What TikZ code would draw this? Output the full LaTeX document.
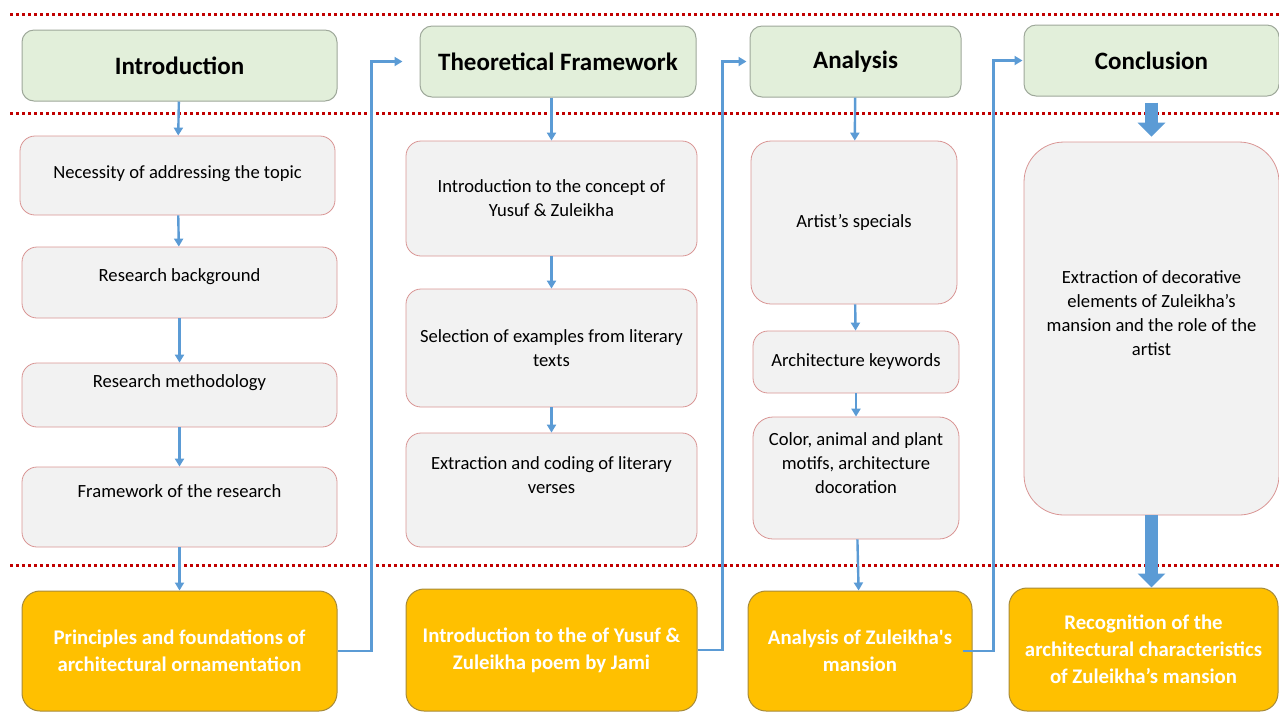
\documentclass[tikz,border=0pt]{standalone}
\usepackage{fontspec}
\setmainfont{Carlito}[Ligatures=TeXOff]
\usetikzlibrary{arrows.meta}

\definecolor{boxgreen}{HTML}{E2EFDA}
\definecolor{headline}{HTML}{9EA89A}
\definecolor{itemgray}{HTML}{F2F2F2}
\definecolor{itemline}{HTML}{D99594}
\definecolor{resultorange}{HTML}{FFC000}
\definecolor{resultline}{HTML}{A68A3A}
\definecolor{flowblue}{HTML}{5B9BD5}
\definecolor{sepred}{HTML}{C00000}

\newcommand{\lift}[2]{\raisebox{#1}[\height][\depth]{\begin{tabular}{@{}c@{}}#2\end{tabular}}}

\begin{document}
\begin{tikzpicture}[x=0.5pt, y=-0.5pt,
    head/.style={draw=headline, fill=boxgreen, rounded corners=6pt, line width=0.5pt, font=\fontsize{12.5}{15}\selectfont\bfseries, minimum height=35.5pt},
    item/.style={draw=itemline, fill=itemgray, rounded corners=7.5pt, line width=0.4pt, font=\fontsize{9.3}{12}\selectfont, align=center},
    result/.style={draw=resultline, fill=resultorange, rounded corners=9pt, line width=0.5pt, text=white, font=\fontsize{10.4}{13.5}\selectfont\bfseries, align=center},
    flow/.style={draw=flowblue, line width=1.2pt, -{Triangle[width=4.5pt,length=4pt]}},
    bigflow/.style={draw=flowblue, line width=6.5pt, -{Triangle[width=13.5pt,length=7pt]}},
    sep/.style={draw=sepred, line width=1.5pt, dash pattern=on 1.5pt off 1.5pt}]

    \useasboundingbox (0,0) rectangle (1279,720);

    \draw[sep] (10,14) -- (1279,14);
    \draw[sep] (10,113) -- (1279,113);
    \draw[sep] (10,565) -- (1279,565);

    % Introduction
    \node[head, minimum width=157.5pt] (intro) at (179.5,65.5) {Introduction};
    \node[item, minimum width=157.5pt, minimum height=39.5pt] (nec) at (177.5,175.5) {\lift{1pt}{Necessity of addressing the topic}};
    \node[item, minimum width=157.5pt, minimum height=35.5pt] (bg) at (179.5,282.5) {\lift{3pt}{Research background}};
    \node[item, minimum width=157.5pt, minimum height=32pt] (meth) at (179.5,395) {\lift{6pt}{Research methodology}};
    \node[item, minimum width=157.5pt, minimum height=40pt] (frame) at (179.5,507) {\lift{7pt}{Framework of the research}};
    \node[result, minimum width=157.5pt, minimum height=60pt] (pfa) at (179.5,651) {Principles and foundations of\\architectural ornamentation};

    \draw[flow] (intro) -- (nec);
    \draw[flow] (nec) -- (bg);
    \draw[flow] (bg) -- (meth);
    \draw[flow] (meth) -- (frame);
    \draw[flow] (frame) -- (pfa);

    % Theoretical Framework
    \node[head, minimum width=138pt] (tf) at (558,61.5) {Theoretical Framework};
    \node[item, minimum width=145.5pt, minimum height=57.5pt] (yz) at (551.5,198.5) {Introduction to the concept of\\Yusuf \& Zuleikha};
    \node[item, minimum width=145.5pt, minimum height=59pt] (sel) at (551.5,348) {Selection of examples from literary\\texts};
    \node[item, minimum width=145.5pt, minimum height=57pt] (cod) at (551.5,490) {\lift{6.5pt}{Extraction and coding of literary\\verses}};
    \node[result, minimum width=145.5pt, minimum height=61pt] (poem) at (551.5,650) {Introduction to the of Yusuf \&\\Zuleikha poem by Jami};

    \draw[flow] (tf.south -| yz.north) -- (yz);
    \draw[flow] (yz) -- (sel);
    \draw[flow] (sel) -- (cod);

    % Analysis
    \node[head, minimum width=105.5pt] (ana) at (855.5,61.5) {Analysis};
    \node[item, minimum width=103pt, minimum height=81.5pt, rounded corners=10pt] (art) at (854,222.5) {Artist’s specials};
    \node[item, minimum width=103pt, minimum height=31pt] (key) at (856,362) {Architecture keywords};
    \node[item, minimum width=103pt, minimum height=61pt, rounded corners=10pt] (col) at (856,478) {\lift{6.5pt}{Color, animal and plant\\motifs, architecture\\docoration}};
    \node[result, minimum width=112pt, minimum height=60pt] (ama) at (860,651) {Analysis of Zuleikha's\\mansion};

    \draw[flow] (ana) -- (art);
    \draw[flow] (art) -- (key);
    \draw[flow] (key) -- (col);
    \draw[flow] (col) -- (ama);

    % Conclusion
    \node[head, minimum width=127.5pt] (con) at (1151.5,60.5) {Conclusion};
    \node[item, minimum width=127.5pt, minimum height=186.5pt, rounded corners=20pt] (ext) at (1151.5,328.5) {\lift{7pt}{Extraction of decorative\\elements of Zuleikha’s\\mansion and the role of the\\artist}};
    \node[result, minimum width=134.5pt, minimum height=61.5pt] (rec) at (1143.5,649.5) {Recognition of the\\architectural characteristics\\of Zuleikha’s mansion};

    \draw[bigflow, shorten <=3pt, shorten >=2.5pt] (con) -- (ext);
    \draw[bigflow] (ext) -- (ext.south |- rec.north);

    % links between columns
    \draw[flow, shorten >=8.5pt] (pfa.east) -- ++(34,0) |- (tf.west);
    \draw[flow, shorten >=1.5pt] (poem.east) -- ++(25,0) |- (ana.west);
    \draw[flow, shorten >=0.5pt] ([xshift=-5pt]ama.east) -- ++(31,0) |- (con.west);

\end{tikzpicture}
\end{document}
